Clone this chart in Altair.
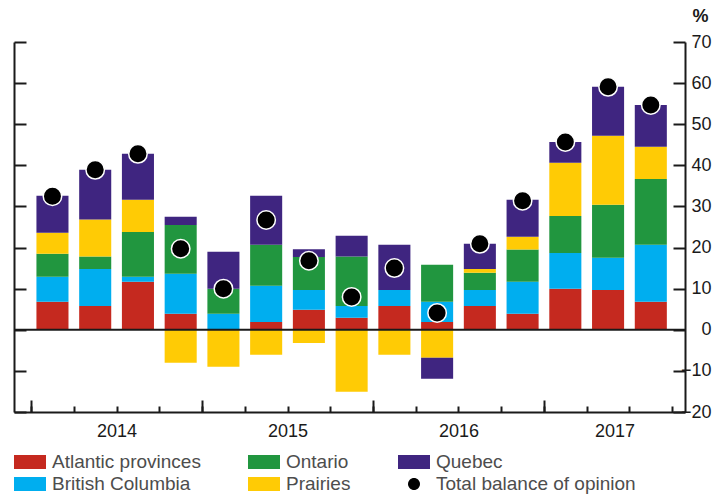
import altair as alt
import pandas as pd

# ---------------- data ----------------
quarters = ["2014Q1", "2014Q2", "2014Q3", "2014Q4",
            "2015Q1", "2015Q2", "2015Q3", "2015Q4",
            "2016Q1", "2016Q2", "2016Q3", "2016Q4",
            "2017Q1", "2017Q2", "2017Q3"]
years = ["2014", "2015", "2016", "2017"]

atlantic = [6.8, 5.8, 11.7, 3.9, 0.0, 1.9, 4.9, 2.9, 5.8, 1.9, 5.8, 3.9, 10.0, 9.7, 6.8]
british_columbia = [6.1, 9.0, 1.2, 9.7, 3.9, 8.8, 4.8, 2.9, 3.9, 4.9, 3.9, 7.8, 8.7, 7.8, 13.9]
ontario = [5.6, 3.0, 10.9, 11.9, 6.1, 10.0, 8.0, 12.0, 0.0, 9.0, 4.2, 7.8, 9.0, 12.9, 16.0]
prairies = [5.1, 9.0, 7.8, -8.0, -9.0, -6.1, -3.2, -15.1, -6.1, -6.8, 0.9, 3.1, 12.9, 16.8, 7.8]
quebec = [9.0, 12.1, 11.2, 2.0, 9.0, 11.9, 1.9, 5.1, 11.0, -5.1, 6.1, 9.0, 5.1, 11.9, 10.2]
total_balance = [32.5, 38.9, 42.8, 19.7, 10.0, 26.7, 16.8, 8.0, 15.0, 4.1, 20.9, 31.4, 45.7, 59.1, 54.7]

stack_order = ["Atlantic provinces", "British Columbia", "Ontario", "Prairies", "Quebec"]
region_values = {
    "Atlantic provinces": atlantic,
    "British Columbia": british_columbia,
    "Ontario": ontario,
    "Prairies": prairies,
    "Quebec": quebec,
}
total_name = "Total balance of opinion"
legend_order = ["Atlantic provinces", "Ontario", "Quebec",
                "British Columbia", "Prairies", total_name]
legend_colors = ["#C5291F", "#21963F", "#3F2580", "#00AEEF", "#FFCB05", "#000000"]

y_ticks = list(range(-20, 71, 10))

# ---------------- tables ----------------
rows = []
for k, reg in enumerate(stack_order):
    for i, q in enumerate(quarters):
        rows.append({"i": i, "quarter": q, "region": reg,
                     "value": region_values[reg][i], "order": k})
bar_df = pd.DataFrame(rows)
pt_df = pd.DataFrame({"i": list(range(len(quarters))), "quarter": quarters,
                      "total": total_balance, "series": total_name})

# ---------------- geometry ----------------
W, H = 671, 370
FONT = "Liberation Sans"
INK = "#1a1a1a"
n = len(quarters)
year_starts = [4 * k for k in range(len(years))]
x_max = n + 0.3
year_centers = [s + 2 for s in year_starts[:-1]] + [(year_starts[-1] + x_max) / 2]
label_expr = " : ".join(
    [f"datum.value < {year_starts[k + 1]} ? '{years[k]}'" for k in range(len(years) - 1)]
    + [f"'{years[-1]}'"])

xscale = alt.Scale(domain=[-0.4, x_max], nice=False, zero=False)
yscale = alt.Scale(domain=[-20, 70], nice=False, zero=False)
cscale = alt.Scale(domain=legend_order, range=legend_colors)
RECT = "M-1,-0.4375H1V0.4375H-1Z"
CIRC = "M0.375,0A0.375,0.375,0,1,1,-0.375,0A0.375,0.375,0,1,1,0.375,0Z"
sscale = alt.Scale(domain=legend_order, range=[RECT] * 5 + [CIRC])

leg = alt.Legend(title=None, orient="none", legendX=0, legendY=413,
                 direction="horizontal", columns=3, symbolSize=1024,
                 symbolStrokeWidth=0, symbolOpacity=1, clipHeight=14,
                 labelFont=FONT, labelFontSize=19, labelColor="#4d4d4d",
                 labelOffset=6, labelLimit=400, columnPadding=47,
                 rowPadding=3, padding=0)

common_axis = dict(title=None, grid=False, tickColor=INK, domainColor=INK,
                   tickWidth=2, domainWidth=2)

# x axes: tall year ticks + baseline, short quarter ticks, year labels
ax_x_major = alt.Axis(orient="top", offset=-H, values=year_starts, tickSize=12,
                      labels=False, domain=True, **common_axis)
ax_x_minor = alt.Axis(orient="top", offset=-H, values=list(range(n + 1)), tickSize=6,
                      labels=False, domain=False, **common_axis)
ax_x_labels = alt.Axis(orient="bottom", values=year_centers, labelExpr=label_expr,
                       ticks=False, tickSize=0, domain=False, title=None, grid=False,
                       labelFont=FONT, labelFontSize=18, labelColor=INK,
                       labelPadding=10)
# y axes: left line with inward ticks, right line with inward ticks, right labels
ax_y_left = alt.Axis(orient="right", offset=-W, values=y_ticks, tickSize=12,
                     labels=False, domain=True, **common_axis)
ax_y_right = alt.Axis(orient="left", offset=-W, values=y_ticks, tickSize=12,
                      labels=False, domain=True, **common_axis)
ax_y_labels = alt.Axis(orient="right", values=y_ticks, ticks=False, tickSize=0,
                       domain=False, grid=False, labelFont=FONT, labelFontSize=18,
                       labelColor=INK, labelPadding=26, labelAlign="right",
                       title="%", titleAngle=0, titleX=23, titleY=-26,
                       titleAlign="right", titleBaseline="middle",
                       titleFont=FONT, titleFontSize=18, titleFontWeight="bold",
                       titleColor=INK)

bars = alt.Chart(bar_df).transform_stack(
    stack="value", groupby=["i"], as_=["v0", "v1"],
    sort=[alt.SortField("order", order="ascending")], offset="zero"
).transform_calculate(
    x0="datum.i + 0.125", x1="datum.i + 0.875"
).mark_bar(strokeWidth=0).encode(
    x=alt.X("x0:Q", scale=xscale, axis=ax_x_major),
    x2="x1:Q",
    y=alt.Y("v0:Q", scale=yscale, axis=ax_y_left),
    y2="v1:Q",
    color=alt.Color("region:N", scale=cscale, legend=leg),
)

zero_line = alt.Chart(pd.DataFrame({"z": [0]})).mark_rule(
    color=INK, strokeWidth=2
).encode(y=alt.Y("z:Q", scale=yscale, axis=None))

points = alt.Chart(pt_df).transform_calculate(
    xc="datum.i + 0.5"
).mark_point(filled=True, opacity=1, stroke="white", strokeWidth=1.5, size=2430).encode(
    x=alt.X("xc:Q", scale=xscale, axis=ax_x_minor),
    y=alt.Y("total:Q", scale=yscale, axis=ax_y_right),
    color=alt.Color("series:N", scale=cscale, legend=leg),
    shape=alt.Shape("series:N", scale=sscale, legend=leg),
)

labels_layer = alt.Chart(pt_df).transform_calculate(
    xc="datum.i + 0.5"
).mark_point(opacity=0).encode(
    x=alt.X("xc:Q", scale=xscale, axis=ax_x_labels),
    y=alt.Y("total:Q", scale=yscale, axis=ax_y_labels),
)

chart = alt.layer(bars, zero_line, points, labels_layer).resolve_axis(
    x="independent", y="independent"
).properties(
    width=W, height=H,
    autosize=alt.AutoSizeParams(type="none"),
    padding={"left": 6, "top": 34, "right": 27, "bottom": 83},
    background="white",
).configure_view(stroke=None)

chart.save("out.html", embed_options={"renderer": "svg", "actions": False})
